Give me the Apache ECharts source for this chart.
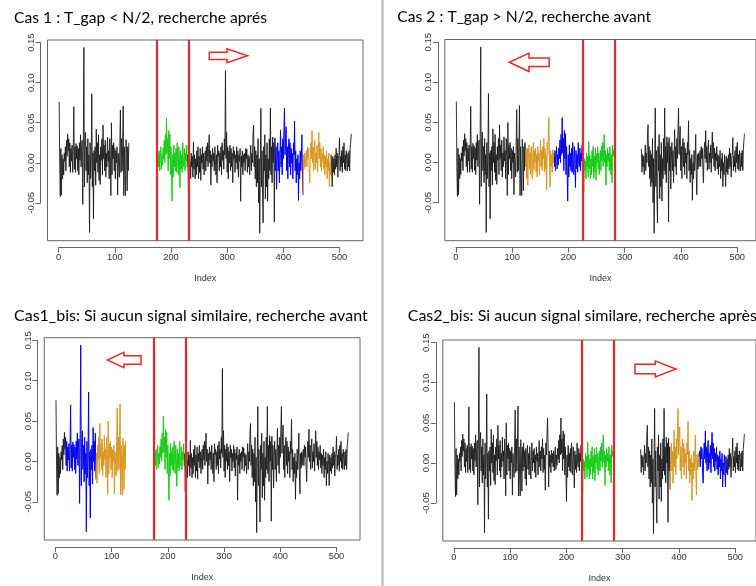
<!DOCTYPE html>
<html><head><meta charset="utf-8">
<script src="https://cdn.jsdelivr.net/npm/echarts@6/dist/echarts.min.js"></script>
<style>html,body{margin:0;padding:0;background:#fff}#c{width:756px;height:586px}</style>
</head><body><div id="c"></div>
<script>
// ---- data: one series (index 1..521), split in chunks ----
const seg1 = [ // 1-125
 0.076,-0.005,-0.042,0.018,-0.040,0.010,-0.020,0.005,-0.015,0.012,
 0.002,0.020,-0.010,0.028,0.008,0.036,0.015,0.030,-0.005,0.025,
 -0.012,0.018,0.002,0.022,-0.012,0.015,0.070,-0.008,0.020,-0.012,
 0.024,0.005,0.021,-0.010,0.018,-0.015,0.025,0.003,0.035,-0.005,
 0.020,0.028,-0.052,0.030,0.144,-0.030,0.025,0.038,-0.010,0.020,
 -0.025,0.030,-0.015,0.010,-0.087,0.025,-0.020,0.005,0.086,-0.030,
 0.012,-0.070,0.015,-0.010,0.020,-0.028,0.042,0.000,0.025,-0.012,
 0.035,-0.022,0.010,-0.027,0.020,0.003,0.030,-0.015,0.047,0.005,
 0.022,-0.010,0.028,-0.018,0.012,-0.005,0.032,0.002,0.015,-0.020,
 0.030,0.008,-0.041,0.050,-0.015,0.022,0.005,0.025,-0.010,0.018,
 -0.020,0.015,0.000,0.020,-0.040,0.012,0.010,-0.018,0.025,0.066,
 -0.012,0.030,-0.010,0.020,0.071,-0.041,0.020,-0.015,-0.041,0.029,
 0.012,-0.035,0.020,-0.010,0.025];
const seg2 = [ // 126-175
 -0.005,0.015,-0.020,0.018,-0.028,0.010,0.022,-0.008,0.012,-0.015,
 0.020,0.005,-0.020,0.008,0.025,-0.010,0.015,0.000,0.018,-0.012,
 0.010,-0.018,0.020,0.002,0.012,-0.015,0.008,0.028,-0.005,0.015,
 -0.010,0.020,0.005,0.030,-0.012,0.018,-0.008,0.010,-0.034,0.025,
 0.010,0.035,0.056,0.020,-0.030,0.015,-0.005,0.010,-0.012,0.016];
const seg3 = [ // 176-230
 0.000,0.012,-0.005,0.015,-0.010,0.008,0.020,-0.008,0.010,-0.003,
 0.018,0.005,0.028,0.000,0.035,0.010,0.056,0.012,0.030,-0.010,
 0.040,0.005,0.036,-0.015,0.020,-0.012,-0.048,0.010,-0.018,0.022,
 -0.005,0.012,-0.010,0.018,-0.012,0.025,0.002,-0.015,0.020,0.005,
 -0.031,0.015,-0.008,0.010,-0.012,0.025,0.000,-0.005,0.018,-0.010,
 0.012,0.002,0.022,-0.005,0.010];
const seg4 = [ // 231-285
 -0.037,0.005,-0.010,0.002,-0.020,0.012,-0.005,0.008,-0.018,0.026,
 -0.008,0.010,-0.020,0.005,-0.015,0.015,-0.005,0.020,-0.020,0.008,
 -0.012,0.018,-0.022,0.010,0.000,0.020,-0.008,0.012,-0.015,0.005,
 0.015,-0.010,0.020,0.002,0.025,-0.005,0.018,0.035,0.000,0.015,
 -0.028,0.010,-0.005,0.018,0.002,0.012,-0.010,0.020,0.005,-0.015,
 0.010,-0.025,0.022,0.008,0.015];
const seg5 = [ // 286-335
 -0.010,0.012,-0.005,0.020,-0.015,0.025,0.003,0.015,-0.008,0.030,
 0.010,0.115,0.005,0.038,-0.012,0.020,-0.020,0.015,0.000,0.022,
 -0.010,0.018,-0.005,0.012,-0.025,0.020,0.005,0.015,-0.012,0.010,
 0.000,0.020,-0.008,0.015,-0.018,0.010,0.002,0.018,-0.048,0.008,
 -0.005,0.015,-0.015,0.010,0.000,0.012,-0.010,0.018,0.005,0.017];
const seg6 = [ // 336-390
 -0.012,0.010,-0.005,0.008,-0.015,0.005,0.022,-0.010,0.012,0.000,
 0.035,0.047,-0.005,0.020,-0.020,0.015,-0.030,0.010,-0.025,0.030,
 -0.050,0.005,-0.088,0.000,0.068,-0.030,0.015,-0.040,-0.075,0.020,
 -0.010,0.035,-0.045,0.010,-0.030,0.025,-0.048,0.005,-0.020,0.030,
 -0.010,0.068,-0.015,0.020,-0.025,0.032,0.000,0.025,-0.074,0.031,
 -0.010,0.020,-0.033,0.005,0.025];
const seg7 = [ // 391-440
 -0.010,0.015,-0.025,0.010,0.041,-0.005,0.020,-0.015,0.030,0.005,
 0.040,0.068,0.010,0.030,0.045,-0.010,0.020,-0.020,0.015,0.030,
 -0.005,0.025,-0.015,0.018,0.000,0.012,-0.020,0.025,0.010,0.052,
 -0.010,0.015,-0.025,0.005,-0.015,0.010,-0.047,0.000,-0.020,0.015,
 -0.010,0.005,0.035,-0.015,-0.040,0.010,-0.008,0.012,-0.005,0.008];
const seg8 = [ // 441-490
 0.015,-0.005,0.020,0.005,0.018,-0.010,-0.025,0.010,0.025,0.005,
 0.040,0.000,0.020,-0.010,0.015,0.028,-0.008,0.012,0.000,0.022,
 -0.012,0.015,0.038,0.005,0.025,-0.005,0.018,-0.010,0.012,0.002,
 0.020,-0.008,0.010,-0.015,0.008,-0.005,0.015,-0.020,0.005,-0.010,
 0.012,-0.030,0.000,-0.015,0.010,-0.005,-0.030,0.008,-0.012,0.005];
const seg9 = [ // 491-521
 -0.015,0.010,-0.008,0.018,-0.005,0.012,-0.018,0.005,0.010,0.031,
 -0.010,0.008,-0.005,0.015,-0.012,0.020,0.000,0.025,-0.008,0.010,
 -0.010,0.015,0.002,-0.010,0.012,-0.005,0.015,-0.010,0.018,0.020,0.036];
const values = [].concat(seg1,seg2,seg3,seg4,seg5,seg6,seg7,seg8,seg9);

const xTicks = [0,100,200,300,400,500];
const yTicks = [-0.05,0.00,0.05,0.10,0.15];
const titles = [
 'Cas 1 : T_gap < N/2, recherche aprés',
 'Cas 2 : T_gap > N/2, recherche avant',
 'Cas1_bis: Si aucun signal similaire, recherche avant',
 'Cas2_bis: Si aucun signal similare, recherche après'];
// coloured index ranges per panel [from, to, colour]
const panelSegments = [
 [[1,125,'black'],[175,230,'green'],[230,385,'black'],[385,435,'blue'],[435,485,'orange'],[485,521,'black']],
 [[1,126,'black'],[126,178,'orange'],[178,230,'blue'],[230,285,'green'],[335,521,'black']],
 [[1,18,'black'],[18,72,'blue'],[72,125,'orange'],[175,230,'green'],[230,521,'black']],
 [[1,230,'black'],[230,285,'green'],[335,388,'black'],[388,440,'orange'],[440,490,'blue'],[490,521,'black']]];
const redLines = [[175,232],[230,286],[175,232],[230,286]];

// ---- styling / layout ----
const COLORS = {black:'#1c1c1c', green:'#14cc14', blue:'#0000ee', orange:'#d8961e'};
const RED = '#e8272d';
const AX = '#666666';
const LBL = '#333333';
const FONT = 'Liberation Sans';
const boxes = [
 {L:47.5, T:40,    W:315.5, H:200.7},
 {L:444.8,T:39.5,  W:316,   H:201.2},
 {L:44.3, T:337.7, W:315.7, H:202.3},
 {L:442.8,T:340,   W:316,   H:201}];
const titlePos = [
 {x:14, y:18.3, w:253},
 {x:397.3, y:16.7, w:253.7},
 {x:14, y:315.5, w:353.7},
 {x:407.7, y:316, w:null}];
const arrows = [
 {tail:209.3, hb:227, tip:247.5, cy:55.8, sh:3.6, hh:7},
 {tail:549.2, hb:529, tip:509.3, cy:62.3, sh:4.3, hh:9.2},
 {tail:141,   hb:124, tip:107.3, cy:360,  sh:4.2, hh:7.7},
 {tail:635,   hb:655.3, tip:676, cy:369, sh:4.7, hh:8}];
const OFF = 7;

const N = values.length;
const vmax = Math.max(...values), vmin = Math.min(...values);
const XMIN = 1 - 0.04*(N-1), XMAX = N + 0.04*(N-1);
const YMIN = vmin - 0.04*(vmax-vmin), YMAX = vmax + 0.04*(vmax-vmin);

const grid=[], xAxis=[], yAxis=[], series=[], graphic=[];
boxes.forEach((b,k)=>{
  const sx = b.W/(XMAX-XMIN), sy = b.H/(YMAX-YMIN);
  const g0 = grid.length;
  const x0 = xTicks[0], x1 = xTicks[xTicks.length-1];
  const y0 = yTicks[0], y1 = yTicks[yTicks.length-1];
  grid.push({left:b.L, top:b.T, width:b.W, height:b.H, show:true, borderColor:AX, borderWidth:1, backgroundColor:'transparent'});
  grid.push({left:b.L+(x0-XMIN)*sx, width:(x1-x0)*sx, top:b.T+b.H+OFF-1, height:1});
  grid.push({left:b.L-OFF, width:1, top:b.T+(YMAX-y1)*sy, height:(y1-y0)*sy});
  // main axes
  xAxis.push({gridIndex:g0, type:'value', min:XMIN, max:XMAX, axisLine:{show:false}, axisTick:{show:false},
    axisLabel:{show:false}, splitLine:{show:false}, name:'Index', nameLocation:'middle', nameGap:33,
    nameTextStyle:{fontFamily:FONT, fontSize:9, color:LBL}});
  yAxis.push({gridIndex:g0, type:'value', min:YMIN, max:YMAX, show:false});
  // x axis helper
  xAxis.push({gridIndex:g0+1, type:'value', min:x0, max:x1, interval:xTicks[1]-xTicks[0],
    axisLine:{show:true, lineStyle:{color:AX, width:1}}, axisTick:{show:true, length:5, lineStyle:{color:AX}},
    axisLabel:{margin:5, fontFamily:FONT, fontSize:9.3, color:LBL}, splitLine:{show:false}});
  yAxis.push({gridIndex:g0+1, type:'value', min:0, max:1, show:false});
  // y axis helper
  xAxis.push({gridIndex:g0+2, type:'value', min:0, max:1, show:false});
  yAxis.push({gridIndex:g0+2, type:'value', min:y0, max:y1, interval:yTicks[1]-yTicks[0], position:'left',
    axisLine:{show:true, lineStyle:{color:AX, width:1}}, axisTick:{show:true, length:5, lineStyle:{color:AX}},
    axisLabel:{margin:4, rotate:90, fontFamily:FONT, fontSize:9.5, color:LBL,
      formatter:v=>(Math.abs(v)<1e-9?0:v).toFixed(2)}, splitLine:{show:false}});
  // series
  panelSegments[k].forEach((s,j)=>{
    const data=[];
    for(let i=s[0]; i<=s[1]; i++) data.push([i, values[i-1]]);
    const ser = {type:'line', xAxisIndex:g0, yAxisIndex:g0, data, symbol:'none', showSymbol:false,
      lineStyle:{color:COLORS[s[2]], width:1, opacity:s[2]==='black'?0.9:1}, silent:true, animation:false, sampling:null, z:2};
    if(j===0){
      ser.markLine = {silent:true, symbol:['none','none'], label:{show:false}, animation:false,
        lineStyle:{color:RED, width:2.2, type:'solid', opacity:1},
        data: redLines[k].map(v=>({xAxis:v}))};
    }
    series.push(ser);
  });
  // arrow
  const a = arrows[k];
  graphic.push({type:'polygon', silent:true, z:10, shape:{points:[
    [a.tail,a.cy-a.sh],[a.hb,a.cy-a.sh],[a.hb,a.cy-a.hh],[a.tip,a.cy],[a.hb,a.cy+a.hh],[a.hb,a.cy+a.sh],[a.tail,a.cy+a.sh]]},
    style:{fill:'#ffffff', stroke:RED, lineWidth:1.5}});
});

// titles, width-fitted
const TFONT = '16px Lato';
const ctx = document.createElement('canvas').getContext('2d');
ctx.font = TFONT;
const scales = titles.map((t,k)=> titlePos[k].w ? titlePos[k].w/ctx.measureText(t).width : null);
scales[3] = scales[2];
titles.forEach((t,k)=>{
  graphic.push({type:'text', x:titlePos[k].x, y:titlePos[k].y, scaleX:scales[k], silent:true, z:10,
    style:{text:t, font:TFONT, fill:'#000', verticalAlign:'middle', textVerticalAlign:'middle', align:'left', textAlign:'left'}});
});
// divider
graphic.push({type:'line', silent:true, z:10, shape:{x1:382.5,y1:0,x2:382.5,y2:586}, style:{stroke:'#b4b4b4', lineWidth:2}});

const chart = echarts.init(document.getElementById('c'), null, {renderer:'canvas'});
chart.setOption({animation:false, backgroundColor:'#fff', textStyle:{fontFamily:FONT},
  grid, xAxis, yAxis, series, graphic});
</script></body></html>
